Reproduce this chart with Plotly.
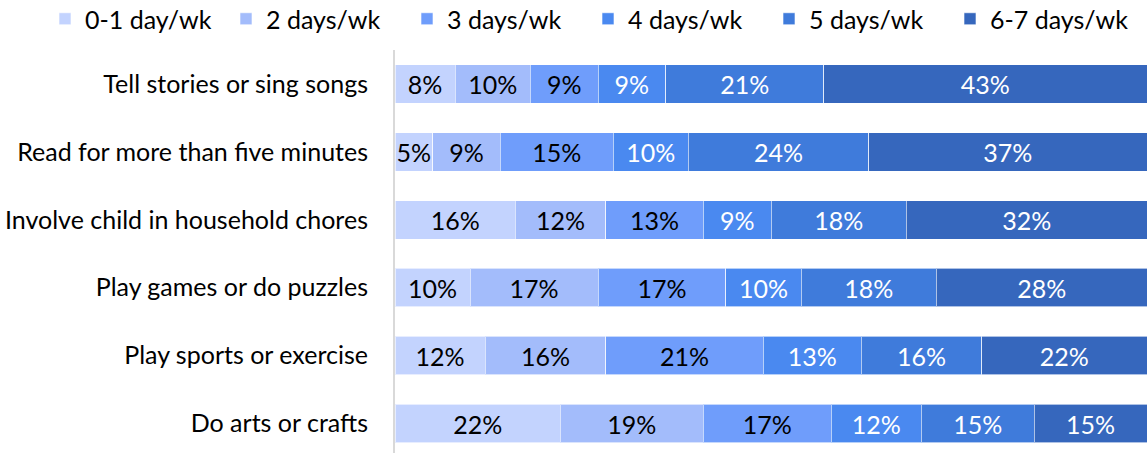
import plotly.graph_objects as go

categories = ["Tell stories or sing songs", "Read for more than five minutes",
              "Involve child in household chores", "Play games or do puzzles",
              "Play sports or exercise", "Do arts or crafts"]
series_names = ["0-1 day/wk", "2 days/wk", "3 days/wk", "4 days/wk", "5 days/wk", "6-7 days/wk"]
d01 = [8, 5, 16, 10, 12, 22]
d2 = [10, 9, 12, 17, 16, 19]
d3 = [9, 15, 13, 17, 21, 17]
d4 = [9, 10, 9, 10, 13, 12]
d5 = [21, 24, 18, 18, 16, 15]
d67 = [43, 37, 32, 28, 22, 15]
series_values = [d01, d2, d3, d4, d5, d67]
colors = ["#C3D3FE", "#A3BCFB", "#6F9DFB", "#4A89F0", "#3F7BDB", "#3667BD"]
text_colors = ["#000000", "#000000", "#000000", "#FFFFFF", "#FFFFFF", "#FFFFFF"]

FONT = "Lato"
FS = 25
W, H = 1147, 453
ML, MT = 395, 50
PH = H - MT

fig = go.Figure()
for name, vals, col, tc in zip(series_names, series_values, colors, text_colors):
    fig.add_trace(go.Bar(
        y=categories, x=vals, name=name, orientation="h",
        marker=dict(color=col, line=dict(color="rgba(255,255,255,0.6)", width=1)),
        text=[f"{v}%" for v in vals], textposition="inside",
        insidetextanchor="middle", textangle=0,
        textfont=dict(color=tc, size=FS, family=FONT),
        hoverinfo="skip",
    ))

fig.update_layout(
    barmode="stack", bargap=0.434,
    width=W, height=H,
    margin=dict(l=ML, r=0, t=MT, b=0, autoexpand=False),
    paper_bgcolor="white", plot_bgcolor="white",
    font=dict(family=FONT, size=FS, color="#000000"),
    uniformtext=dict(minsize=FS, mode="show"),
    showlegend=True,
    legend=dict(orientation="h", xref="paper", yref="paper",
                x=(45 - ML) / (W - ML), y=1 + (MT + 4) / PH,
                xanchor="left", yanchor="top",
                entrywidth=136, entrywidthmode="pixels",
                itemwidth=30, traceorder="normal", bgcolor="rgba(0,0,0,0)",
                font=dict(size=FS, family=FONT, color="#000000")),
)
fig.update_xaxes(range=[0, 100], showgrid=False, showticklabels=False,
                 zeroline=False, showline=False, fixedrange=True)
fig.update_yaxes(autorange=False, range=[5.434, -0.5], showgrid=False,
                 showline=True, linecolor="#D9D9D9", linewidth=2,
                 ticks="", ticklabelstandoff=20, zeroline=False,
                 tickfont=dict(size=FS, family=FONT, color="#000000"))

fig.write_html("out.html", config={"displayModeBar": False, "staticPlot": True},
               post_script="document.body.style.margin='0';document.body.style.overflow='hidden';")
